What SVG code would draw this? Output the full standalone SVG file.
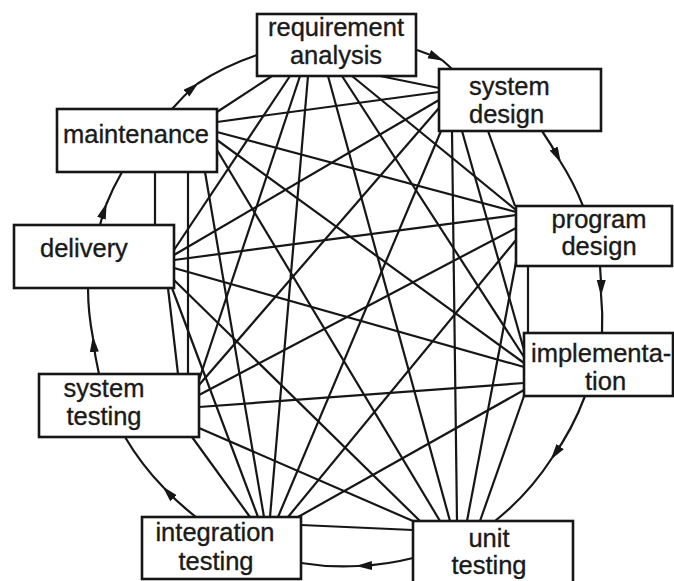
<svg xmlns="http://www.w3.org/2000/svg" width="674" height="581" viewBox="0 0 674 581">
  <style>
    .box { fill: #fff; stroke: #161616; stroke-width: 2.6; }
    .lbl { font-family: "Liberation Sans", Arial, sans-serif; font-size: 25.5px; fill: #1a1a1a; stroke: #1a1a1a; stroke-width: 0.35; }
    .mid { text-anchor: middle; }
    .edges line { stroke: #161616; stroke-width: 2.2; }
    .cycle path { fill: none; stroke: #161616; stroke-width: 2.2; }
  </style>
  <defs>
    <marker id="head" markerUnits="userSpaceOnUse" markerWidth="18" markerHeight="10" refX="14" refY="4.5" orient="auto">
      <path d="M0,0 L16,4.5 L0,9 z" fill="#161616"/>
    </marker>
  </defs>
  <rect width="674" height="581" fill="#fff"/>

  <!-- straight links between every pair of phases -->
  <g id="connectors" class="edges">
    <line x1="380" y1="76" x2="439" y2="88"/>
    <line x1="352" y1="76" x2="516" y2="210"/>
    <line x1="342" y1="76" x2="524" y2="357"/>
    <line x1="328" y1="76" x2="450" y2="521"/>
    <line x1="308" y1="76" x2="270" y2="517"/>
    <line x1="300" y1="76" x2="199" y2="380"/>
    <line x1="290" y1="76" x2="174" y2="250"/>
    <line x1="272" y1="76" x2="217" y2="112"/>
    <line x1="488" y1="131" x2="515" y2="206"/>
    <line x1="462" y1="131" x2="524" y2="350"/>
    <line x1="452" y1="131" x2="457" y2="521"/>
    <line x1="441" y1="131" x2="278" y2="517"/>
    <line x1="439" y1="108" x2="199" y2="385"/>
    <line x1="439" y1="100" x2="174" y2="255"/>
    <line x1="439" y1="92" x2="217" y2="122"/>
    <line x1="528" y1="266" x2="528" y2="333"/>
    <line x1="516" y1="262" x2="467" y2="521"/>
    <line x1="516" y1="240" x2="288" y2="517"/>
    <line x1="516" y1="228" x2="199" y2="395"/>
    <line x1="516" y1="215" x2="174" y2="260"/>
    <line x1="516" y1="212" x2="217" y2="132"/>
    <line x1="524" y1="396" x2="480" y2="521"/>
    <line x1="524" y1="390" x2="298" y2="517"/>
    <line x1="524" y1="383" x2="199" y2="407"/>
    <line x1="524" y1="367" x2="174" y2="268"/>
    <line x1="524" y1="363" x2="217" y2="140"/>
    <line x1="413" y1="530" x2="301" y2="525"/>
    <line x1="413" y1="521" x2="199" y2="428"/>
    <line x1="420" y1="521" x2="174" y2="280"/>
    <line x1="440" y1="521" x2="217" y2="150"/>
    <line x1="250" y1="517" x2="192" y2="437"/>
    <line x1="258" y1="517" x2="172" y2="288"/>
    <line x1="264" y1="517" x2="205" y2="172"/>
    <line x1="178" y1="374" x2="168" y2="288"/>
    <line x1="188" y1="374" x2="188" y2="172"/>
    <line x1="155" y1="225" x2="155" y2="172"/>
  </g>

  <!-- curved arrows around the outside: the phase cycle -->
  <g id="cycle" class="cycle">
    <path d="M417,50 A262,262 0 0 1 442,60" marker-end="url(#head)"/>
    <path d="M442,60 A262,262 0 0 1 452,69"/>
    <path d="M542,131 A262,262 0 0 1 560,161" marker-end="url(#head)"/>
    <path d="M560,161 A262,262 0 0 1 583,206"/>
    <path d="M600,266 A262,262 0 0 1 601,294" marker-end="url(#head)"/>
    <path d="M601,294 A262,262 0 0 1 602,333"/>
    <path d="M585,396 A262,262 0 0 1 552,458" marker-end="url(#head)"/>
    <path d="M552,458 A262,262 0 0 1 495,521"/>
    <path d="M413,558 A262,262 0 0 1 358,566" marker-end="url(#head)"/>
    <path d="M358,566 A262,262 0 0 1 301,563"/>
    <path d="M196,517 A262,262 0 0 1 164,488" marker-end="url(#head)"/>
    <path d="M164,488 A262,262 0 0 1 125,437"/>
    <path d="M99,374 A262,262 0 0 1 93,338" marker-end="url(#head)"/>
    <path d="M93,338 A262,262 0 0 1 88,288"/>
    <path d="M100,225 A262,262 0 0 1 106,205" marker-end="url(#head)"/>
    <path d="M106,205 A262,262 0 0 1 122,172"/>
    <path d="M172,109 A262,262 0 0 1 197,84" marker-end="url(#head)"/>
    <path d="M197,84 A262,262 0 0 1 257,55"/>
  </g>

  <g id="requirement-analysis">
    <rect class="box" x="257" y="14" width="159" height="62"/>
    <text class="lbl mid" x="336" y="36">requirement</text>
    <text class="lbl mid" x="336" y="64">analysis</text>
  </g>
  <g id="system-design">
    <rect class="box" x="439" y="69" width="162" height="62"/>
    <text class="lbl" x="469" y="95">system</text>
    <text class="lbl" x="469" y="123">design</text>
  </g>
  <g id="program-design">
    <rect class="box" x="516" y="206" width="156" height="60"/>
    <text class="lbl mid" x="599" y="228">program</text>
    <text class="lbl mid" x="599" y="255">design</text>
  </g>
  <g id="implementation">
    <rect class="box" x="524" y="333" width="149" height="63"/>
    <text class="lbl" x="531" y="362">implementa-</text>
    <text class="lbl" x="585" y="390">tion</text>
  </g>
  <g id="unit-testing">
    <rect class="box" x="413" y="521" width="160" height="64"/>
    <text class="lbl mid" x="489" y="547">unit</text>
    <text class="lbl mid" x="489" y="574">testing</text>
  </g>
  <g id="integration-testing">
    <rect class="box" x="142" y="517" width="159" height="62"/>
    <text class="lbl mid" x="215" y="541">integration</text>
    <text class="lbl mid" x="216" y="570">testing</text>
  </g>
  <g id="system-testing">
    <rect class="box" x="39" y="374" width="160" height="63"/>
    <text class="lbl mid" x="104" y="397">system</text>
    <text class="lbl mid" x="104" y="425">testing</text>
  </g>
  <g id="delivery">
    <rect class="box" x="14" y="225" width="160" height="63"/>
    <text class="lbl" x="40" y="257">delivery</text>
  </g>
  <g id="maintenance">
    <rect class="box" x="57" y="109" width="160" height="63"/>
    <text class="lbl" x="63" y="143">maintenance</text>
  </g>
</svg>
